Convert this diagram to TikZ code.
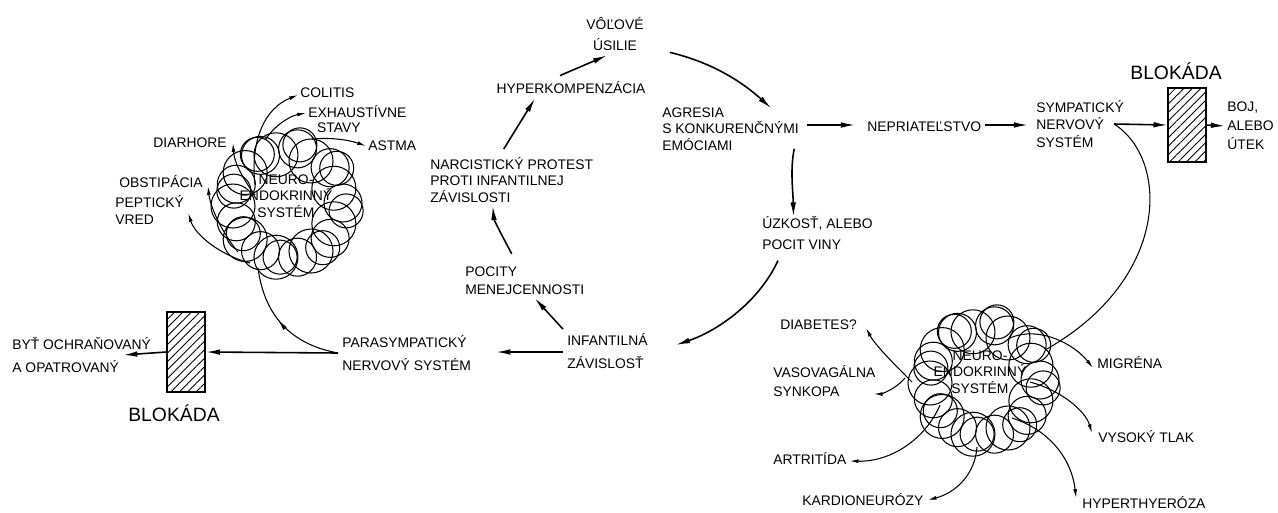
\documentclass[tikz,border=0pt]{standalone}
\usepackage{fontspec}
\setmainfont{Liberation Sans}
\usetikzlibrary{arrows.meta,patterns.meta,decorations.markings,calc}

\newcommand{\lblfont}{\fontsize{7.9}{9.4}\selectfont}
\newcommand{\blkfont}{\fontsize{11}{13}\selectfont}

\tikzstyle{lbl}=[inner sep=0pt, align=left, font=\lblfont]
\tikzstyle{blk}=[inner sep=0pt, font=\blkfont]
\tikzstyle{hatch}=[draw, line width=1pt, inner sep=0pt, minimum width=0.76cm, pattern={Lines[angle=45,distance=3.4pt,line width=0.5pt]}]
\tikzstyle{puff}=[line width=0.6pt]
\tikzstyle{farr}=[line width=0.9pt, -{Latex[length=8pt,width=3.2pt]}]
\tikzstyle{sarr}=[line width=0.6pt, -{Latex[length=5pt,width=2.2pt]}]

% overlapping loops round a nerve centre
\newcommand{\nervecloud}[1]{%
  \foreach \a in {0,40,...,320} \draw[puff] ($(#1)+(\a:55)$) circle (0.38cm);
  \foreach \a in {20,60,...,340} \draw[puff] ($(#1)+(-3,3)+(\a:52)$) circle (0.44cm);
  \foreach \a in {10,55,...,325} \draw[puff] ($(#1)+(2,-2)+(\a:57)$) circle (0.34cm);
}

\begin{document}
\begin{tikzpicture}[x=0.02cm, y=-0.02cm]
        \useasboundingbox (0,0) rectangle (1278,512);
        % the cycle
        \draw (615,34) node[lbl, align=center](vol){VÔĽOVÉ\\[3pt]ÚSILIE};
        \draw (571,88) node[lbl](hyp){HYPERKOMPENZÁCIA};
        \draw (662,129) node[lbl, anchor=west](agr){AGRESIA\\S KONKURENČNÝMI\\EMÓCIAMI};
        \draw (867,127) node[lbl, anchor=west](nep){NEPRIATEĽSTVO};
        \draw (1036,124) node[lbl, anchor=west](sym){SYMPATICKÝ\\[0.5pt]NERVOVÝ\\[0.5pt]SYSTÉM};
        \draw (1176,71) node[blk](blokR){BLOKÁDA};
        \draw (1187,125) node[hatch, minimum height=1.48cm](boxR){};
        \draw (1227,126) node[lbl, anchor=west](boj){BOJ,\\[1.4pt]ALEBO\\[1.4pt]ÚTEK};
        \draw (430,180) node[lbl, anchor=west](nar){NARCISTICKÝ PROTEST\\PROTI INFANTILNEJ\\ZÁVISLOSTI};
        \draw (762,233) node[lbl, anchor=west](uzk){ÚZKOSŤ, ALEBO\\[2pt]POCIT VINY};
        \draw (465,281) node[lbl, anchor=west](poc){POCITY\\[0.8pt]MENEJCENNOSTI};
        \draw (567,351) node[lbl, anchor=west](inf){INFANTILNÁ\\[3.6pt]ZÁVISLOSŤ};
        \draw (342,353) node[lbl, anchor=west](par){PARASYMPATICKÝ\\[4.2pt]NERVOVÝ SYSTÉM};
        \draw (12,355) node[lbl, anchor=west](byt){BYŤ OCHRAŇOVANÝ\\[4.2pt]A OPATROVANÝ};
        \draw (186,352) node[hatch, minimum height=1.6cm](boxL){};
        \draw (174,413) node[blk](blokL){BLOKÁDA};
        % left centre
        \nervecloud{288,203}
        \draw (286,196) node[lbl, align=center](cloudL){NEURO-\\ENDOKRINNÝ\\SYSTÉM};
        \draw (300,93) node[lbl, anchor=west](colitis){COLITIS};
        \draw (308,119) node[lbl, anchor=west](exh){EXHAUSTÍVNE\\[-1pt]\hspace*{5pt}STAVY};
        \draw (368,146) node[lbl, anchor=west](astma){ASTMA};
        \draw (227,143) node[lbl, anchor=east](diar){DIARHORE};
        \draw (203,182) node[lbl, anchor=east](obst){OBSTIPÁCIA};
        \draw (115,210) node[lbl, anchor=west](pept){PEPTICKÝ\\VRED};
        % right centre
        \nervecloud{985,380}
        \draw (980,372) node[lbl, align=center](cloudR){NEURO-\\ENDOKRINNÝ\\SYSTÉM};
        \draw (780,325) node[lbl, anchor=west](diab){DIABETES?};
        \draw (773,381) node[lbl, anchor=west](vaso){VASOVAGÁLNA\\[1.3pt]SYNKOPA};
        \draw (773,458) node[lbl, anchor=west](artr){ARTRITÍDA};
        \draw (802,500) node[lbl, anchor=west](kard){KARDIONEURÓZY};
        \draw (1097,363) node[lbl, anchor=west](migr){MIGRÉNA};
        \draw (1098,437) node[lbl, anchor=west](vys){VYSOKÝ TLAK};
        \draw (1082,503) node[lbl, anchor=west](hyth){HYPERTHYERÓZA};
        %
        \draw[farr] ([shift={(26,1)}]vol.south east) .. controls (710,62) and (740,80) .. ([shift={(-28,1)}]agr.north east);
        \draw[farr] ([shift={(-11,-6)}]hyp.north) -- ([shift={(-8,4)}]vol.south);
        \draw[farr] ([shift={(-8,-8)}]nar.north) -- ([shift={(-36,4)}]hyp.south);
        \draw[farr] ([shift={(-13,-13)}]poc.north) .. controls (500,232) and (494,220) .. ([shift={(-19,3)}]nar.south);
        \draw[farr] ([shift={(-4,-4)}]inf.north west) -- ([shift={(10,3)}]poc.south);
        \draw[farr] ([shift={(16,11)}]uzk.south west) .. controls (760,300) and (720,330) .. ([shift={(28,-6)}]inf.east);
        \draw[farr] ([shift={(-5,-2)}]agr.south east) .. controls (790,170) and (793,190) .. ([shift={(-24,0)}]uzk.north);
        \draw[farr] ([shift={(8,-4)}]agr.east) -- ([shift={(-12,-2)}]nep.west);
        \draw[farr] ([shift={(3,-2)}]nep.east) -- ([shift={(-8,1)}]sym.west);
        \draw[farr] ([shift={(-10,0)}]sym.east) -- (boxR.west);
        \draw[farr] (boxR.east) -- ([shift={(-2,0)}]boj.west);
        \draw[farr] ([shift={(-4,1)}]inf.west) -- ([shift={(25,-1)}]par.east);
        \draw[farr] ([shift={(-4,0)}]par.west) -- (boxL.east);
        \draw[farr] (boxL.west) -- ([shift={(-28,0)}]byt.east);
        %
        \draw[line width=0.6pt, postaction={decorate}, decoration={markings, mark=at position 0.55 with {\arrow{Latex[length=6pt,width=2.6pt]}}}]
            ([shift={(-4,0)}]par.west) .. controls (295,345) and (265,320) .. ([shift={(-28,72)}]cloudL.center);
        \draw[sarr] ([shift={(-31,-11)}]cloudL.center) .. controls (250,140) and (265,108) .. ([shift={(-2,2)}]colitis.west);
        \draw[sarr] ([shift={(-21,-56)}]cloudL.center) .. controls (275,125) and (290,116) .. ([shift={(-2,-6)}]exh.west);
        \draw[sarr] ([shift={(26,-57)}]cloudL.center) .. controls (335,137) and (352,141) .. ([shift={(-2,0)}]astma.west);
        \draw[sarr] ([shift={(-31,-1)}]cloudL.center) .. controls (240,175) and (234,160) .. ([shift={(6,0)}]diar.east);
        \draw[sarr] ([shift={(-48,56)}]cloudL.center) .. controls (220,230) and (210,205) .. ([shift={(5,4)}]obst.east);
        \draw[sarr] ([shift={(-36,67)}]cloudL.center) .. controls (220,255) and (195,235) .. ([shift={(4,3)}]pept.east);
        %
        \draw[line width=0.6pt] ([shift={(-10,0)}]sym.east) .. controls (1170,160) and (1170,280) .. ([shift={(65,-22)}]cloudR.center);
        \draw[sarr] ([shift={(-68,10)}]cloudR.center) .. controls (895,365) and (875,345) .. ([shift={(9,3)}]diab.east);
        \draw[sarr] ([shift={(-75,6)}]cloudR.center) .. controls (895,390) and (880,394) .. ([shift={(-2,-3)}]vaso.south east);
        \draw[sarr] ([shift={(-40,33)}]cloudR.center) .. controls (925,440) and (890,462) .. ([shift={(3,3)}]artr.east);
        \draw[sarr] ([shift={(-3,75)}]cloudR.center) .. controls (975,475) and (955,493) .. ([shift={(4,0)}]kard.east);
        \draw[sarr] ([shift={(30,-34)}]cloudR.center) .. controls (1040,325) and (1075,345) .. ([shift={(-4,5)}]migr.west);
        \draw[sarr] ([shift={(50,10)}]cloudR.center) .. controls (1060,390) and (1085,410) .. ([shift={(-6,-4)}]vys.west);
        \draw[sarr] ([shift={(32,46)}]cloudR.center) .. controls (1050,430) and (1072,460) .. ([shift={(-6,-5)}]hyth.west);
\end{tikzpicture}
\end{document}
